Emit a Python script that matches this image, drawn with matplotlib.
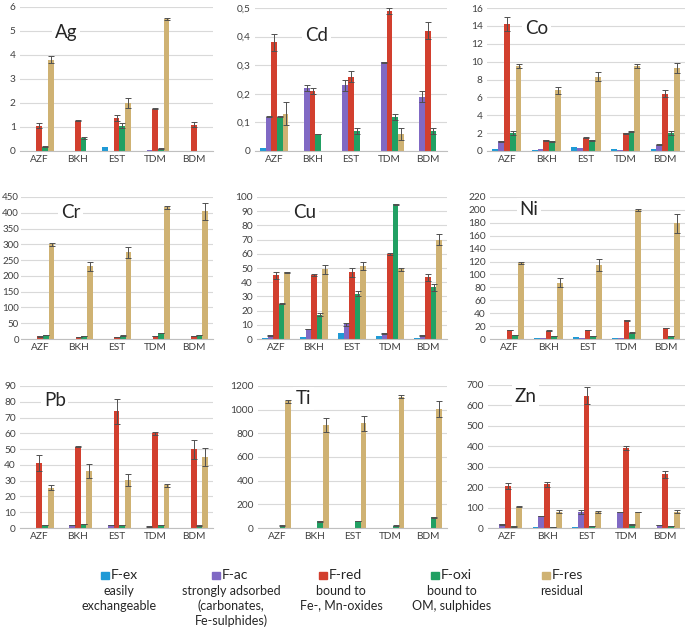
import numpy as np
import matplotlib
matplotlib.use("Agg")
from matplotlib import pyplot as plt
from matplotlib.patches import Rectangle

# --- Data ---
sites = ["AZF", "BKH", "EST", "TDM", "BDM"]
fractions = ["F-ex", "F-ac", "F-red", "F-oxi", "F-res"]
fraction_notes = ["easily\nexchangeable",
                  "strongly adsorbed\n(carbonates,\nFe-sulphides)",
                  "bound to\nFe-, Mn-oxides",
                  "bound to\nOM, sulphides",
                  "residual"]
colors = ["#1f9ad6", "#8069c4", "#d23f2e", "#21a063", "#cfb273"]

# rows = fractions (ex, ac, red, oxi, res), columns = sites
ag = [[0.02, 0, 0.15, 0, 0],
      [0, 0, 0, 0.05, 0],
      [1.05, 1.27, 1.38, 1.77, 1.1],
      [0.18, 0.55, 1.05, 0.1, 0],
      [3.8, 0, 2.0, 5.5, 0]]
ag_err = [[0, 0, 0, 0, 0],
          [0, 0, 0, 0, 0],
          [0.1, 0.01, 0.12, 0.01, 0.12],
          [0.01, 0.05, 0.1, 0.01, 0],
          [0.15, 0, 0.2, 0.05, 0]]

cd = [[0.01, 0, 0, 0, 0],
      [0.12, 0.22, 0.23, 0.31, 0.19],
      [0.38, 0.21, 0.26, 0.49, 0.42],
      [0.12, 0.06, 0.07, 0.12, 0.07],
      [0.13, 0, 0, 0.06, 0]]
cd_err = [[0, 0, 0, 0, 0],
          [0.001, 0.01, 0.02, 0.001, 0.02],
          [0.03, 0.01, 0.02, 0.01, 0.03],
          [0.001, 0.001, 0.01, 0.01, 0.01],
          [0.04, 0, 0, 0.02, 0]]

co = [[0.2, 0.15, 0.4, 0.2, 0.2],
      [1.1, 0.2, 0.3, 0.15, 0.7],
      [14.2, 1.2, 1.5, 2.0, 6.4],
      [2.0, 1.1, 1.2, 2.2, 2.0],
      [9.5, 6.8, 8.3, 9.5, 9.3]]
co_err = [[0, 0, 0, 0, 0],
          [0.05, 0, 0, 0, 0.05],
          [0.8, 0.05, 0.1, 0.05, 0.4],
          [0.2, 0.05, 0.05, 0.05, 0.2],
          [0.2, 0.4, 0.5, 0.2, 0.6]]

cr = [[0, 0, 0, 0, 0],
      [0, 0, 0, 0, 0],
      [8, 7, 7, 10, 10],
      [13, 9, 11, 20, 12],
      [300, 230, 275, 418, 405]]
cr_err = [[0, 0, 0, 0, 0],
          [0, 0, 0, 0, 0],
          [0.5, 0.5, 0.5, 0.5, 0.5],
          [0.5, 0.5, 0.5, 0.5, 0.5],
          [4, 15, 18, 5, 27]]

cu = [[0.5, 1.5, 4, 2, 1],
      [2.5, 7, 10.5, 4, 2.5],
      [45, 45, 47, 60, 43.5],
      [25, 17, 32, 95, 36.5],
      [47, 49, 51.5, 49, 70]]
cu_err = [[0, 0, 0, 0, 0],
          [0.3, 0.3, 1, 0.3, 0.3],
          [2.5, 0.5, 3, 0.5, 2.5],
          [0.3, 1, 2, 0.3, 2.5],
          [0.5, 3, 3, 1, 4]]

ni = [[0.5, 1, 3, 2, 0.3],
      [0.5, 1, 1, 1, 0.5],
      [14, 13, 14, 29, 17],
      [6, 5, 5, 10, 5],
      [118, 87, 115, 200, 179]]
ni_err = [[0, 0, 0, 0, 0],
          [0, 0, 0, 0, 0],
          [0.5, 0.5, 0.5, 0.5, 0.5],
          [0.3, 0.3, 0.3, 0.3, 0.3],
          [2, 7, 9, 1.5, 14]]

pb = [[0.2, 0, 0.2, 0, 0],
      [0, 2, 2, 1, 0],
      [41, 51.5, 74, 60, 50],
      [2, 2.5, 2, 2, 1.5],
      [25.5, 36, 30.5, 27, 45]]
pb_err = [[0, 0, 0, 0, 0],
          [0, 0.2, 0.2, 0.2, 0],
          [5, 0.3, 8, 1, 6],
          [0.2, 0.2, 0.2, 0.2, 0.2],
          [1.5, 4.5, 4, 1, 5.5]]

ti = [[0, 0, 0, 0, 0],
      [3, 2, 2, 2, 2],
      [0, 0, 0, 0, 0],
      [20, 55, 60, 20, 90],
      [1070, 870, 885, 1110, 1005]]
ti_err = [[0, 0, 0, 0, 0],
          [0, 0, 0, 0, 0],
          [0, 0, 0, 0, 0],
          [2, 3, 3, 2, 3],
          [15, 60, 65, 10, 70]]

zn = [[2, 3, 5, 2, 2],
      [18, 58, 78, 77, 15],
      [207, 213, 648, 392, 263],
      [8, 5, 10, 18, 10],
      [105, 80, 78, 78, 80]]
zn_err = [[0, 0, 0, 0, 0],
          [1, 1, 8, 1, 1],
          [15, 12, 42, 8, 18],
          [1, 1, 1, 1, 1],
          [2, 8, 6, 2, 7]]

# element, values, errors, y max, y step, label position (axes fraction)
panels = [
    ("Ag", ag, ag_err, 6, 1, (0.24, 0.82)),
    ("Cd", cd, cd_err, 0.5, 0.1, (0.32, 0.81)),
    ("Co", co, co_err, 16, 2, (0.25, 0.86)),
    ("Cr", cr, cr_err, 450, 50, (0.26, 0.89)),
    ("Cu", cu, cu_err, 100, 10, (0.25, 0.89)),
    ("Ni", ni, ni_err, 220, 20, (0.20, 0.91)),
    ("Pb", pb, pb_err, 90, 10, (0.18, 0.90)),
    ("Ti", ti, ti_err, 1200, 200, (0.24, 0.91)),
    ("Zn", zn, zn_err, 700, 100, (0.19, 0.92)),
]

# axes boxes in pixels: left, right, top, bottom
boxes = [
    (20, 213, 7, 151), (255, 447, 8, 151), (487, 685, 8, 151),
    (21, 213, 197, 339), (257, 447, 197, 339), (490, 685, 197, 339),
    (20, 213, 386, 528), (258, 447, 386, 528), (488, 685, 385, 528),
]

W, H = 685, 631
plt.rcParams["font.family"] = ["Lato", "DejaVu Sans"]

fig = plt.figure(figsize=(W / 100, H / 100), dpi=100)

width = 0.148
x = np.arange(len(sites))

for (name, vals, errs, ymax, step, lpos), (l, r, t, b) in zip(panels, boxes):
    ax = fig.add_axes([l / W, 1 - b / H, (r - l) / W, (b - t) / H])
    for i, (v, e) in enumerate(zip(vals, errs)):
        pos = x + (i - 2) * width
        ax.bar(pos, v, width=width, color=colors[i], linewidth=0, zorder=2)
        v = np.array(v, dtype=float)
        e = np.array(e, dtype=float)
        m = (e > 0) & (v > 0)
        if m.any():
            ax.errorbar(pos[m], v[m], yerr=e[m], fmt="none", ecolor="#505050",
                        elinewidth=0.7, capsize=2, capthick=0.7, zorder=3)
    ax.set_xlim(-0.5, 4.5)
    ax.set_ylim(0, ymax)
    ticks = np.arange(0, ymax + step / 2, step)
    ax.set_yticks(ticks)
    if step < 1:
        ax.set_yticklabels(["0" if tk == 0 else f"{tk:.1f}".replace(".", ",") for tk in ticks])
    else:
        ax.set_yticklabels([f"{tk:g}" for tk in ticks])
    ax.set_xticks(x)
    ax.set_xticklabels(sites)
    ax.tick_params(length=0, labelsize=7.3, colors="#404040", pad=3)
    if l < 100 and ymax >= 100:
        # three-digit labels in the left column sit close to the edge
        ax.tick_params(axis="y", pad=1.5, labelsize=7)
    ax.grid(axis="y", color="#d9d9d9", linewidth=0.8, zorder=0)
    ax.set_axisbelow(True)
    for s in ["top", "right", "left"]:
        ax.spines[s].set_visible(False)
    ax.spines["bottom"].set_color("#bfbfbf")
    ax.spines["bottom"].set_linewidth(0.8)
    ax.text(lpos[0], lpos[1], name, transform=ax.transAxes, fontsize=13.5,
            ha="center", va="center", color="#262626", zorder=5,
            bbox=dict(facecolor="white", edgecolor="none", pad=2))

# --- Legend (drawn by hand) ---
square_x = [101, 212, 319, 431, 542]
note_x = [119, 231, 341, 452, 562]
for sx, nx, lab, note, c in zip(square_x, note_x, fractions, fraction_notes, colors):
    fig.patches.append(Rectangle((sx / W, 1 - 579 / H), 7.5 / W, 7.5 / H,
                                 transform=fig.transFigure, color=c))
    fig.text((sx + 10) / W, 1 - 575 / H, lab, fontsize=10, ha="left",
             va="center", color="#262626")
    fig.text(nx / W, 1 - 585 / H, note, fontsize=9, ha="center", va="top",
             color="#262626", linespacing=1.25)

fig.savefig("out.png", dpi=100)
